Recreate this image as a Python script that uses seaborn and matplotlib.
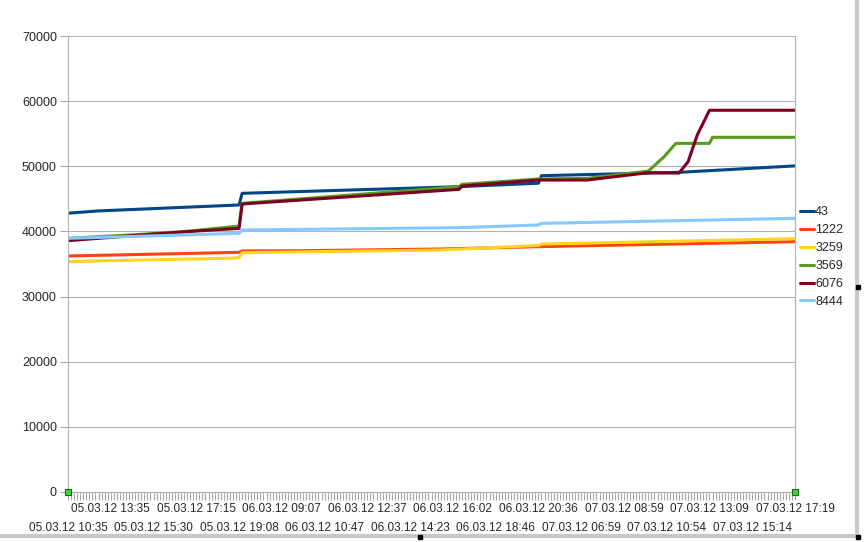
import matplotlib
matplotlib.use("Agg")
import matplotlib.pyplot as plt
from matplotlib.lines import Line2D
import pandas as pd
import seaborn as sns

# category axis: one point per reading, every 14th one labelled
n_points = 239
label_step = 14
x_labels = ["05.03.12 10:35", "05.03.12 13:35", "05.03.12 15:30", "05.03.12 17:15",
            "05.03.12 19:08", "06.03.12 09:07", "06.03.12 10:47", "06.03.12 12:37",
            "06.03.12 14:23", "06.03.12 16:02", "06.03.12 18:46", "06.03.12 20:36",
            "07.03.12 06:59", "07.03.12 08:59", "07.03.12 10:54", "07.03.12 13:09",
            "07.03.12 15:14", "07.03.12 17:19"]

series_names = ["43", "1222", "3259", "3569", "6076", "8444"]
colors = ["#004586", "#ff420e", "#ffd320", "#579d1c", "#7e0021", "#83caff"]

# breakpoints of each series (category index, value)
idx_43 = [0, 10, 56, 57, 128, 154, 155, 200, 238]
val_43 = [42800, 43150, 44060, 45850, 46870, 47400, 48560, 49070, 50060]

idx_1222 = [0, 56, 57, 76, 122, 154, 238]
val_1222 = [36230, 36790, 37000, 37040, 37300, 37660, 38430]

idx_3259 = [0, 12, 54, 56, 57, 122, 154, 155, 238]
val_3259 = [35350, 35500, 35900, 35970, 36740, 37150, 37850, 38070, 38890]

idx_3569 = [0, 24, 40, 56, 57, 128, 129, 154, 170, 190, 195, 199, 210, 211, 238]
val_3569 = [38940, 39550, 40060, 40830, 44310, 46870, 47230, 48050, 48150, 49270,
            51400, 53520, 53520, 54450, 54450]

idx_6076 = [0, 24, 40, 56, 57, 128, 129, 154, 170, 190, 200, 203, 206, 210, 238]
val_6076 = [38580, 39450, 40000, 40470, 44210, 46460, 46970, 47890, 47890, 49020,
            48950, 50700, 54800, 58600, 58600]

idx_8444 = [0, 56, 57, 128, 154, 155, 238]
val_8444 = [38940, 39710, 40220, 40580, 40990, 41240, 42010]

all_idx = [idx_43, idx_1222, idx_3259, idx_3569, idx_6076, idx_8444]
all_val = [val_43, val_1222, val_3259, val_3569, val_6076, val_8444]

rows = []
for name, xs, ys in zip(series_names, all_idx, all_val):
    for x, y in zip(xs, ys):
        rows.append({"series": name, "idx": x, "value": y})
df = pd.DataFrame(rows)

sns.set_style("white")
plt.rcParams['font.family'] = ['Liberation Sans', 'DejaVu Sans']

fig = plt.figure(figsize=(8.66, 5.42), dpi=100)
ax = fig.add_axes([68 / 866, 1 - 492 / 542, 727 / 866, 456 / 542])

sns.lineplot(data=df, x="idx", y="value", hue="series", hue_order=series_names,
             palette=dict(zip(series_names, colors)), estimator=None, sort=False,
             lw=2.2, ax=ax)

ax.set_xlim(0, n_points - 1)
ax.set_ylim(0, 70000)
ax.set_yticks(range(0, 70001, 10000))
ax.yaxis.grid(True, color="#b3b3b3", lw=0.8)
ax.set_axisbelow(True)
ax.set_xlabel("")
ax.set_ylabel("")

# staggered labels: even ones as major ticks (lower row),
# odd ones as labels of the minor ticks (upper row)
label_pos = list(range(0, n_points, label_step))
ax.set_xticks(label_pos[0::2])
ax.set_xticklabels(x_labels[0::2])
odd_lookup = dict(zip(label_pos[1::2], x_labels[1::2]))
ax.set_xticks(range(n_points), minor=True)
ax.set_xticklabels([odd_lookup.get(i, "") for i in range(n_points)], minor=True)
ax.tick_params(axis="x", which="both", bottom=True, length=6, width=0.8,
               color="#a6a6a6", labelsize=8.5)
ax.tick_params(axis="x", which="minor", pad=2)
ax.tick_params(axis="x", which="major", pad=15.5)
ax.tick_params(axis="y", left=True, length=6, width=0.8, color="#a6a6a6",
               pad=2, labelsize=9)

for side in ["left", "right", "bottom"]:
    ax.spines[side].set_color("#b3b3b3")
    ax.spines[side].set_linewidth(0.8)
ax.spines["top"].set_visible(False)

# legend outside on the right, no frame
old = ax.get_legend()
handles = old.legend_handles
labels = [t.get_text() for t in old.get_texts()]
ax.legend(handles, labels, loc="center left", bbox_to_anchor=(1.007, 0.515),
          frameon=False, handlelength=1.1, handletextpad=0.1, labelspacing=0.47,
          borderaxespad=0, borderpad=0, fontsize=9)

# selection handles on the plot area corners
ax.plot([0, 1], [0, 0], ls="none", marker="s", ms=5, mfc="#33dd33", mec="#1a661a",
        mew=0.8, transform=ax.transAxes, clip_on=False, zorder=5)

# window frame at right and bottom
fig.add_artist(Line2D([857 / 866, 857 / 866], [1, 1 - 536 / 542], color="#c8c8c8",
                      lw=3, transform=fig.transFigure))
fig.add_artist(Line2D([0, 858 / 866], [1 - 536 / 542, 1 - 536 / 542], color="#c8c8c8",
                      lw=3, transform=fig.transFigure))
for px, py in [(420, 537), (858, 287), (858, 537)]:
    fig.add_artist(Line2D([px / 866], [1 - py / 542], marker="s", ms=3, color="black",
                          ls="none", transform=fig.transFigure))

fig.savefig("out.png", dpi=100)
